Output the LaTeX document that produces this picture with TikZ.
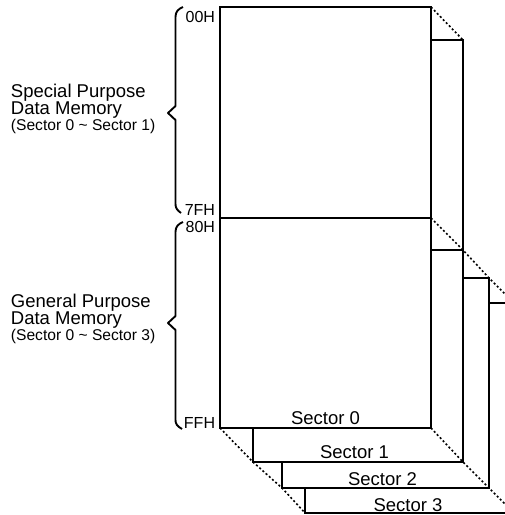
\documentclass[tikz,border=0pt]{standalone}
\usepackage{fontspec}
\setmainfont{Liberation Sans}

\begin{document}
\begin{tikzpicture}[x=1pt, y=-1pt, line width=1.9pt, line join=miter,
   depth/.style={line width=1.6pt, dash pattern=on 2pt off 2.3pt},
   brace/.style={line width=1.9pt, line join=round},
   addr/.style={font=\fontsize{16}{16}\selectfont, anchor=base east, inner sep=0pt},
   seclabel/.style={font=\fontsize{18.5}{18.5}\selectfont, anchor=base, inner sep=0pt},
   biglabel/.style={font=\fontsize{18.5}{18.5}\selectfont, anchor=base west, inner sep=0pt},
   smalllabel/.style={font=\fontsize{15.6}{15.6}\selectfont, anchor=base west, inner sep=0pt}]
   % Page is 505 x 515 units, y runs downwards
   \useasboundingbox (0,0) rectangle (505,515);
   \clip (0,0) rectangle (505,515);

   % Corners of the sectors
   \coordinate (s0tl) at (220,7);   \coordinate (s0tr) at (431,7);
   \coordinate (s0ml) at (220,218); \coordinate (s0mr) at (431,218);
   \coordinate (s0bl) at (220,428); \coordinate (s0br) at (431,428);
   \coordinate (s1tr) at (463,40);  \coordinate (s1mr) at (463,250);
   \coordinate (s1bl) at (253,462); \coordinate (s1br) at (463,462);
   \coordinate (s2mr) at (489,278);
   \coordinate (s2bl) at (282,488); \coordinate (s2br) at (489,488);
   \coordinate (s3mr) at (514,303);
   \coordinate (s3bl) at (305,513); \coordinate (s3br) at (514,513);

   % Sector 3 (back)
   \draw (489,303) -- (s3mr) -- (s3br) -- (s3bl) -- (305,488);
   % Sector 2
   \draw (463,278) -- (s2mr) -- (s2br) -- (s2bl) -- (282,462);
   % Sector 1
   \draw (431,40) -- (s1tr) -- (s1br) -- (s1bl) -- (253,428);
   \draw (s0mr) ++(0,32) -- (s1mr);
   % Sector 0 (front)
   \draw (s0tl) rectangle (s0br);
   \draw (s0ml) -- (s0mr);

   % Depth edges
   \draw[depth] (s0tr) -- (s1tr);
   \draw[depth] (s0mr) -- (s1mr) -- (s2mr) -- (s3mr);
   \draw[depth] (s0bl) -- (s1bl) -- (s2bl) -- (s3bl);
   \draw[depth] (s0br) -- (s1br) -- (s2br) -- (s3br);

   % Sector names
   \node[seclabel] (sec0) at (325.5,424) {Sector 0};
   \node[seclabel] (sec1) at (354.5,458) {Sector 1};
   \node[seclabel] (sec2) at (382.5,485) {Sector 2};
   \node[seclabel] (sec3) at (408,511) {Sector 3};

   % Addresses
   \node[addr] (a00) at (216,22)  {00H};
   \node[addr] (a7f) at (216,215) {7FH};
   \node[addr] (a80) at (216,232) {80H};
   \node[addr] (aff) at (216,428) {FFH};

   % Braces
   \draw[brace] (183,7) .. controls (178,9) and (175.5,12) .. (175.5,17)
      -- (175.5,106) -- (168,113) -- (175.5,120) -- (175.5,204)
      .. controls (175.5,208) and (177,210) .. (181,213);
   \draw[brace] (183,222) .. controls (178,224) and (175.5,227) .. (175.5,232)
      -- (175.5,316) -- (168,323) -- (175.5,330) -- (175.5,420)
      .. controls (175.5,424) and (177,426) .. (182,429);

   % Area names
   \node[biglabel] (sp1) at (10,97)  {Special Purpose};
   \node[biglabel] (sp2) at (10,114) {Data Memory};
   \node[smalllabel] (sp3) at (10,130) {(Sector 0 \textasciitilde{} Sector 1)};
   \node[biglabel] (gp1) at (10,307) {General Purpose};
   \node[biglabel] (gp2) at (10,324) {Data Memory};
   \node[smalllabel] (gp3) at (10,340) {(Sector 0 \textasciitilde{} Sector 3)};
\end{tikzpicture}
\end{document}
